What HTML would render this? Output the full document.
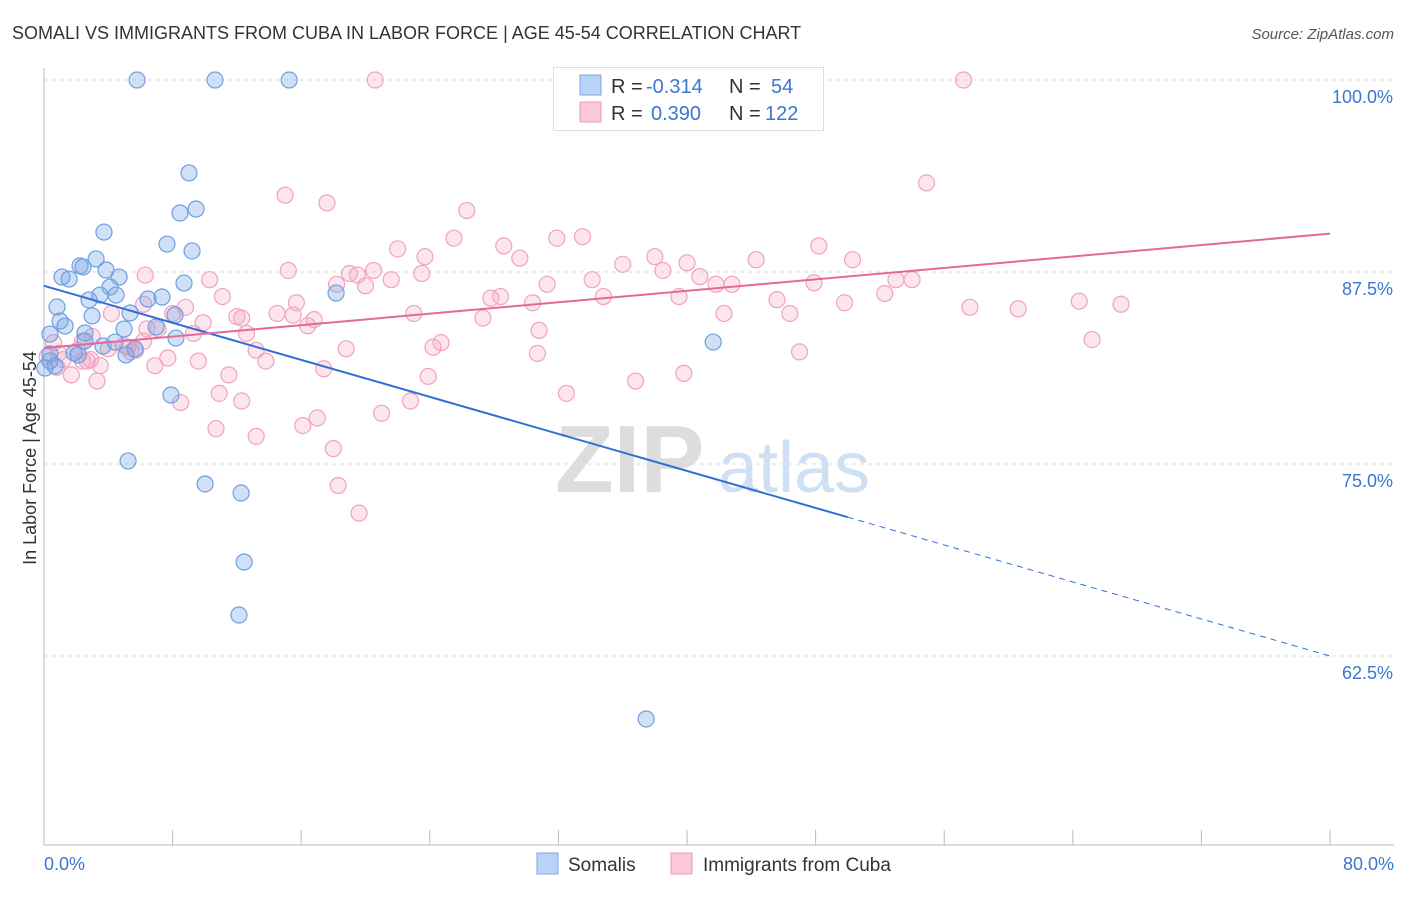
<!DOCTYPE html>
<html><head><meta charset="utf-8"><style>
body{margin:0;background:#fff;font-family:"Liberation Sans",sans-serif;}
svg text{font-family:"Liberation Sans",sans-serif;}
</style></head><body>
<svg id="chart" width="1406" height="892">
<text x="12" y="39" font-size="18" fill="#333">SOMALI VS IMMIGRANTS FROM CUBA IN LABOR FORCE | AGE 45-54 CORRELATION CHART</text>
<text x="1394" y="39" font-size="15" fill="#555" font-style="italic" text-anchor="end">Source: ZipAtlas.com</text>
<text x="36" y="458" font-size="18" fill="#333" text-anchor="middle" transform="rotate(-90 36 458)">In Labor Force | Age 45-54</text>
<g>
<text x="555" y="492" font-size="96" fill="#ddd" font-family="Liberation Serif" font-weight="bold">ZIP</text>
<text x="718" y="492" font-size="72" fill="#cfe0f3">atlas</text>
</g>
<g id="grid"></g><g id="axes"></g><g id="pts"></g><g id="lines"></g>
<g>
<rect x="553.5" y="67.5" width="270" height="63" fill="#fff" stroke="#ddd"/>
<rect x="580" y="75" width="21" height="20" fill="#b8d3f5" stroke="#7aa8e6"/>
<rect x="580" y="102" width="21" height="20" fill="#fbc8d6" stroke="#ee9ab5"/>
<text x="611" y="93" font-size="20" fill="#333">R = </text><text x="646" y="93" font-size="20" fill="#3b76d0">-0.314</text>
<text x="729" y="93" font-size="20" fill="#333">N = </text><text x="771" y="93" font-size="20" fill="#3b76d0">54</text>
<text x="611" y="120" font-size="20" fill="#333">R = </text><text x="651" y="120" font-size="20" fill="#3b76d0">0.390</text>
<text x="729" y="120" font-size="20" fill="#333">N = </text><text x="765" y="120" font-size="20" fill="#3b76d0">122</text>
</g>
<g>
<rect x="537" y="853" width="21" height="21" fill="#b8d3f5" stroke="#7aa8e6"/>
<text x="568" y="871" font-size="19" fill="#333">Somalis</text>
<rect x="671" y="853" width="21" height="21" fill="#fbc8d6" stroke="#ee9ab5"/>
<text x="703" y="871" font-size="19" fill="#333">Immigrants from Cuba</text>
</g>
</svg>
<script>
const yTicks=[100,87.5,75,62.5];
const yTickLabels=["100.0%","87.5%","75.0%","62.5%"];
const xTickLabels=["0.0%","80.0%"];
const blueX=[5.79,10.64,15.25,9.02,9.46,8.46,3.73,7.65,9.21,3.24,2.24,2.43,3.86,1.12,1.56,4.67,4.11,8.71,0.81,2.80,3.48,4.48,7.34,6.47,5.35,8.15,1.0,1.31,0.37,2.99,4.98,6.97,2.55,4.42,3.67,5.66,5.10,1.87,2.12,0.37,8.21,18.17,41.63,7.90,5.23,10.02,12.26,12.45,12.13,37.46,0.68,0.37,0.06,2.55];
const blueY=[100,100,100,93.95,91.6,91.34,90.1,89.32,88.87,88.35,87.9,87.83,87.63,87.17,87.04,87.17,86.52,86.78,85.22,85.68,86.0,86.0,85.87,85.74,84.83,84.7,84.31,83.98,83.46,84.64,83.79,83.92,83.01,82.94,82.68,82.49,82.1,82.23,82.1,82.16,83.2,86.13,82.94,79.49,75.2,73.7,73.11,68.62,65.17,58.4,81.38,81.71,81.25,83.53];
const pinkX=[20.6,57.2,54.9,15.0,17.6,26.3,25.5,31.9,33.5,28.6,22.0,23.7,38.0,40.0,44.3,48.2,50.3,15.2,19.0,19.5,20.5,23.5,6.3,10.3,18.2,20.0,21.6,29.6,34.1,36.0,38.5,40.8,41.8,42.8,47.9,53.0,54.0,31.3,27.8,28.4,30.4,34.8,39.5,45.6,49.8,52.3,57.6,60.6,64.4,67.0,11.1,6.2,8.8,8.0,15.7,14.5,15.5,16.8,12.0,12.3,23.0,27.3,42.3,46.4,9.9,12.6,16.4,9.3,3.0,2.4,4.2,4.0,6.4,7.1,5.2,18.8,13.2,24.7,24.2,30.8,30.7,47.0,65.2,7.7,9.6,13.8,5.7,2.4,2.7,0.8,1.7,3.3,6.9,17.4,23.9,36.8,39.8,11.5,32.5,10.9,8.5,12.3,22.8,21.0,17.0,16.1,10.7,13.2,18.0,18.3,19.6,0.2,0.9,1.2,2.1,2.9,3.5,5.0,5.4,6.2,0.6];
const pinkY=[100,100,93.3,92.5,92.0,91.5,89.7,89.7,89.8,89.2,89.0,88.5,88.5,88.1,88.3,89.2,88.3,87.6,87.4,87.3,87.6,87.4,87.3,87.0,86.7,86.6,87.0,88.4,87.0,88.0,87.6,87.2,86.7,86.7,86.8,87.0,87.0,86.7,85.8,85.9,85.5,85.9,85.9,85.7,85.5,86.1,85.2,85.1,85.6,85.4,85.9,85.4,85.2,84.8,85.5,84.8,84.7,84.4,84.6,84.5,84.8,84.5,84.8,84.8,84.2,83.5,84.0,83.5,83.3,83.0,84.8,82.5,83.8,83.8,82.6,82.5,82.4,82.9,82.6,83.7,82.2,82.3,83.1,81.9,81.7,81.7,82.4,81.7,81.7,81.3,80.8,80.4,81.4,81.2,80.7,80.4,80.9,80.8,79.6,79.6,79.0,79.1,79.1,78.3,78.0,77.5,77.3,76.8,76.0,73.6,71.8,82.0,82.2,81.8,82.4,81.8,81.4,82.7,82.3,83.0,82.9];
const blueTrend=[86.6,62.5];
const pinkTrend=[82.55,90.0];
const blueSolidEnd=50;
const NS="http://www.w3.org/2000/svg";
const X=v=>44+v*(1330-44)/80;
const Y=v=>80+(100-v)*15.36;
function mk(t,a,p){const e=document.createElementNS(NS,t);for(const k in a)e.setAttribute(k,a[k]);p.appendChild(e);return e;}
const grid=document.getElementById('grid'),axes=document.getElementById('axes'),pts=document.getElementById('pts'),lines=document.getElementById('lines');
yTicks.forEach((t,i)=>{
 const l=mk('line',{x1:44,x2:1394,y1:Y(t),y2:Y(t),stroke:'#ddd','stroke-dasharray':'4,4'},grid);
 
 
 const tx=mk('text',{x:1393,y:Y(t)+23,'font-size':18,fill:'#3b76d0','text-anchor':'end'},axes);
 tx.textContent=yTickLabels[i];
 
 
});
const ax=mk('line',{x1:44,x2:1394,y1:845,y2:845,stroke:'#bbb'},axes);


const ay=mk('line',{x1:44,x2:44,y1:68,y2:845,stroke:'#bbb'},axes);


for(let i=0;i<=10;i++){const t=mk('line',{x1:X(i*8),x2:X(i*8),y1:830,y2:845,stroke:'#bbb'},axes);
 
 }
[[0,'start',44],[80,'end',1394]].forEach((d,i)=>{const t=mk('text',{x:d[2],y:870,'font-size':18,fill:'#3b76d0','text-anchor':d[1]},axes);t.textContent=xTickLabels[i];
 
 });
pinkX.forEach((v,i)=>{const c=mk('circle',{cx:X(v),cy:Y(pinkY[i]),r:8,fill:'rgba(248,170,195,0.3)',stroke:'#f0a3bc','stroke-width':1.2},pts);
 
 });
blueX.forEach((v,i)=>{const c=mk('circle',{cx:X(v),cy:Y(blueY[i]),r:8,fill:'rgba(120,165,230,0.35)',stroke:'#6d9fe2','stroke-width':1.2},pts);
 
 });
const by=x=>blueTrend[0]+(blueTrend[1]-blueTrend[0])*x/80;
const b1=mk('line',{x1:X(0),y1:Y(by(0)),x2:X(blueSolidEnd),y2:Y(by(blueSolidEnd)),stroke:'#2f6fd6','stroke-width':2},lines);


const b2=mk('line',{x1:X(blueSolidEnd),y1:Y(by(blueSolidEnd)),x2:X(80),y2:Y(by(80)),stroke:'#2f6fd6','stroke-width':1,'stroke-dasharray':'6,5'},lines);


const p1=mk('line',{x1:X(0),y1:Y(pinkTrend[0]),x2:X(80),y2:Y(pinkTrend[1]),stroke:'#e5689a','stroke-width':2},lines);


</script>
</body></html>
